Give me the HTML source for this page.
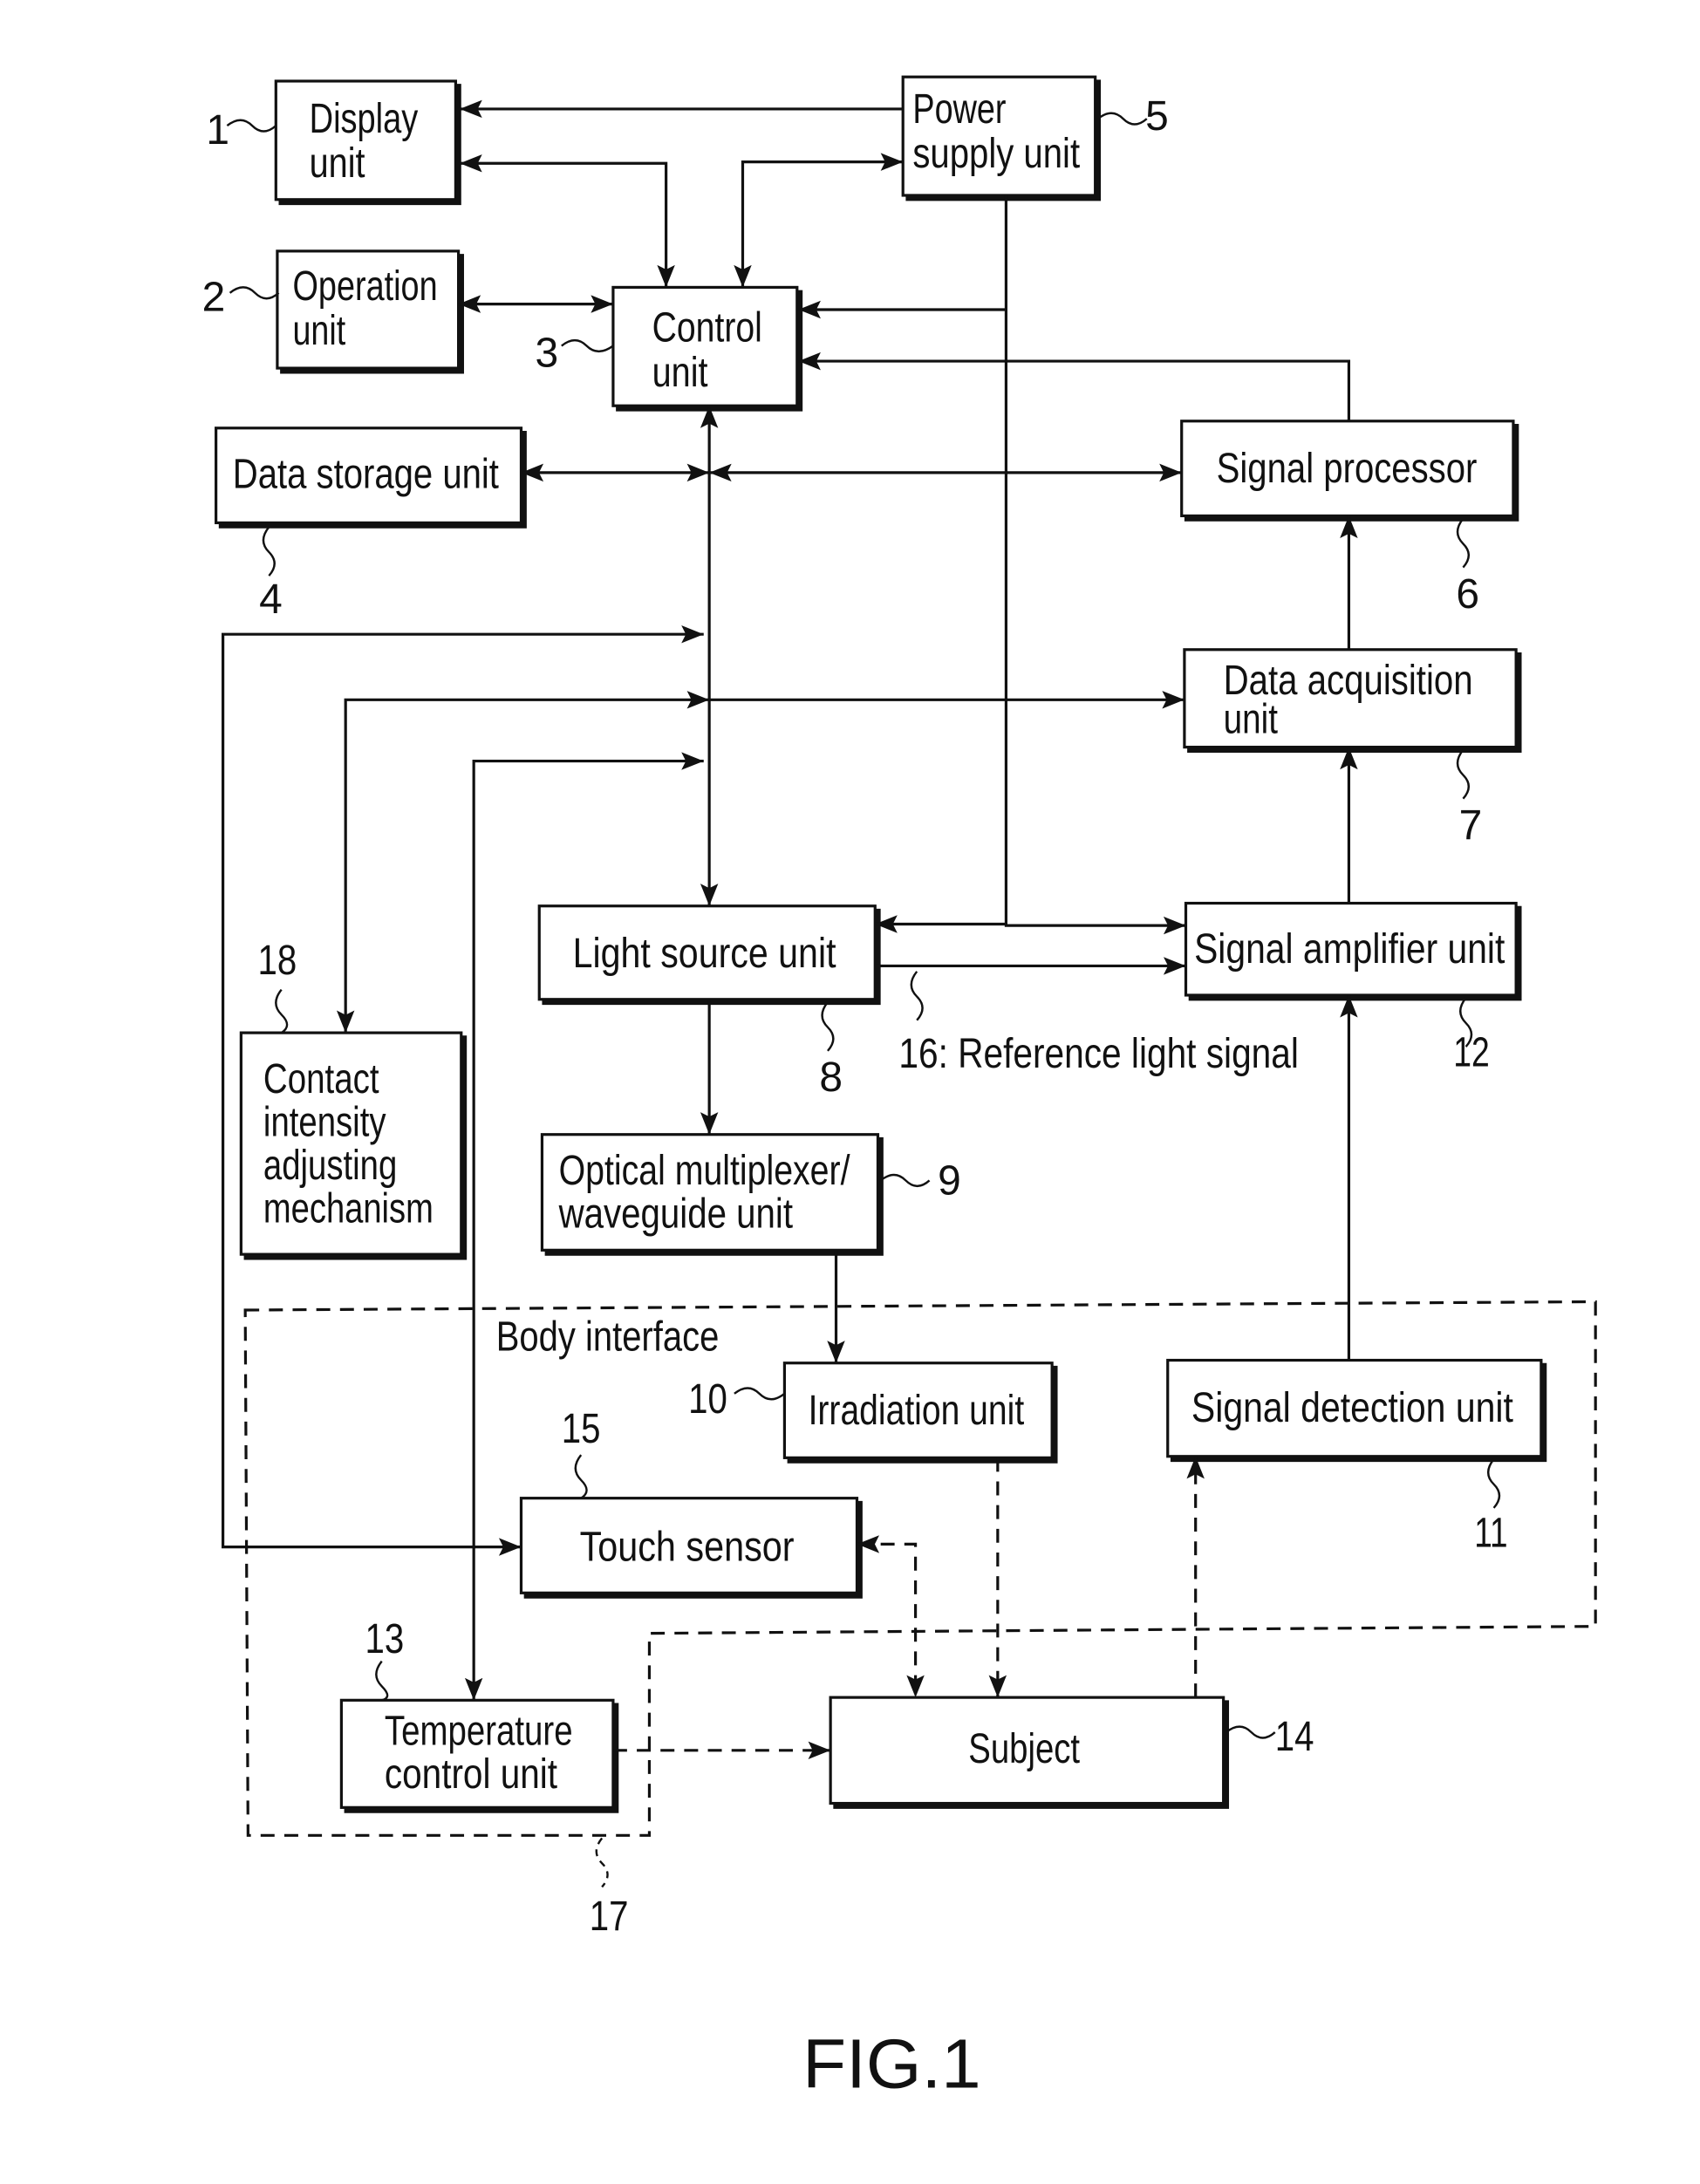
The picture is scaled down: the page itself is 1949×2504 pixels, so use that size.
<!DOCTYPE html>
<html><head><meta charset="utf-8"><style>
html,body{margin:0;padding:0;background:#fff;}
svg{display:block;}
text{font-family:"Liberation Sans",sans-serif;fill:#111;}
</style></head><body>
<svg width="1949" height="2504" viewBox="0 0 1220 1567" xmlns="http://www.w3.org/2000/svg">
<defs>
<marker id="b" viewBox="0 0 10 10" refX="10" refY="5" markerWidth="16" markerHeight="16" markerUnits="userSpaceOnUse" orient="auto-start-reverse">
<path d="M0,1 L10,5 L0,9 L2,5 z" fill="#111"/></marker>
</defs>
<g fill="none" stroke="#111" stroke-width="2">
<g>
<rect x="198" y="58" width="129" height="85"/>
<rect x="648" y="55" width="138" height="85"/>
<rect x="199" y="180" width="130" height="84"/>
<rect x="440" y="206" width="132" height="85"/>
<rect x="155" y="307" width="219" height="68"/>
<rect x="848" y="302" width="238" height="68"/>
<rect x="850" y="466" width="238" height="70"/>
<rect x="387" y="650" width="241" height="67"/>
<rect x="851" y="648" width="237" height="66"/>
<rect x="173" y="741" width="158" height="159"/>
<rect x="389" y="814" width="241" height="83"/>
<rect x="563" y="978" width="192" height="68"/>
<rect x="838" y="976" width="268" height="69"/>
<rect x="374" y="1075" width="241" height="68"/>
<rect x="245" y="1220" width="195" height="77"/>
<rect x="596" y="1218" width="282" height="76"/>
</g>
<g stroke-width="4">
<path d="M329,60 V145 H200"/><path d="M788,57 V142 H650"/><path d="M331,182 V266 H201"/>
<path d="M574,208 V293 H442"/><path d="M376,309 V377 H157"/><path d="M1088,304 V372 H850"/>
<path d="M1090,468 V538 H852"/><path d="M630,652 V719 H389"/><path d="M1090,650 V716 H853"/>
<path d="M333,743 V902 H175"/><path d="M632,816 V899 H391"/><path d="M757,980 V1048 H565"/>
<path d="M1108,978 V1047 H840"/><path d="M617,1077 V1145 H376"/><path d="M442,1222 V1299 H247"/>
<path d="M880,1220 V1296 H598"/>
</g>
<path d="M648,78 H330" marker-end="url(#b)"/>
<path d="M330,117 H478 V206" marker-start="url(#b)" marker-end="url(#b)"/>
<path d="M648,116 H533 V206" marker-start="url(#b)" marker-end="url(#b)"/>
<path d="M722,140 V664 H851" marker-end="url(#b)"/>
<path d="M722,222 H573" marker-end="url(#b)"/>
<path d="M968,302 V259 H573" marker-end="url(#b)"/>
<path d="M329,218 H440" marker-start="url(#b)" marker-end="url(#b)"/>
<path d="M509,291 V650" marker-start="url(#b)" marker-end="url(#b)"/>
<path d="M374,339 H509" marker-start="url(#b)" marker-end="url(#b)"/>
<path d="M509,339 H848" marker-start="url(#b)" marker-end="url(#b)"/>
<path d="M505,455 H160 V1110 H374" marker-start="url(#b)" marker-end="url(#b)"/>
<path d="M509,502 H248 V741" marker-start="url(#b)" marker-end="url(#b)"/>
<path d="M509,502 H850" marker-end="url(#b)"/>
<path d="M505,546 H340 V1220" marker-start="url(#b)" marker-end="url(#b)"/>
<path d="M509,717 V814" marker-end="url(#b)"/>
<path d="M628,663 H722" marker-start="url(#b)"/>
<path d="M628,693 H851" marker-end="url(#b)"/>
<path d="M968,466 V370" marker-end="url(#b)"/>
<path d="M968,648 V536" marker-end="url(#b)"/>
<path d="M968,976 V714" marker-end="url(#b)"/>
<path d="M600,897 V978" marker-end="url(#b)"/>
<g stroke-dasharray="10,7">
<path d="M176,940 L1145,934 L1145,1167 L466,1172 L466,1317 L178,1317 Z"/>
<path d="M716,1046 V1218" marker-end="url(#b)"/>
<path d="M615,1108 H657 V1218" marker-start="url(#b)" marker-end="url(#b)"/>
<path d="M858,1218 V1045" marker-end="url(#b)"/>
<path d="M440,1256 H596" marker-end="url(#b)"/>
</g>
<g stroke-width="1.5">
<path d="M163,90 q10,-8 18,0 t17,0"/>
<path d="M788,85 q10,-8 18,0 t17,0"/>
<path d="M165,210 q10,-8 18,0 t17,0"/>
<path d="M403,248 q10,-8 18,0 t19,0"/>
<path d="M193,378 q-8,10 0,18 t0,17"/>
<path d="M1050,372 q-8,10 0,18 t0,17"/>
<path d="M1050,538 q-8,10 0,18 t0,17"/>
<path d="M594,719 q-8,10 0,18 t0,17"/>
<path d="M1052,716 q-8,10 0,18 t0,17"/>
<path d="M658,697 q-8,10 0,18 t0,17"/>
<path d="M202,710 q-8,10 0,18 t0,13"/>
<path d="M632,847 q10,-8 18,0 t17,0"/>
<path d="M527,1000 q10,-8 18,0 t18,0"/>
<path d="M417,1044 q-8,10 0,18 t0,13"/>
<path d="M1072,1047 q-8,10 0,18 t0,17"/>
<path d="M274,1192 q-8,10 0,18 t0,10"/>
<path d="M880,1243 q10,-8 18,0 t17,0"/>
<path d="M432,1319 q-8,10 0,18 t0,17" stroke-dasharray="5,4"/>
</g>
</g>
<g font-size="30" lengthAdjust="spacingAndGlyphs">
<text x="222" y="95" textLength="78" lengthAdjust="spacingAndGlyphs">Display</text><text x="222" y="127" textLength="40" lengthAdjust="spacingAndGlyphs">unit</text>
<text x="655" y="88" textLength="67" lengthAdjust="spacingAndGlyphs">Power</text><text x="655" y="120" textLength="120" lengthAdjust="spacingAndGlyphs">supply unit</text>
<text x="210" y="215" textLength="104" lengthAdjust="spacingAndGlyphs">Operation</text><text x="210" y="247" textLength="38" lengthAdjust="spacingAndGlyphs">unit</text>
<text x="468" y="245" textLength="79" lengthAdjust="spacingAndGlyphs">Control</text><text x="468" y="277" textLength="40" lengthAdjust="spacingAndGlyphs">unit</text>
<text x="167" y="350" textLength="191" lengthAdjust="spacingAndGlyphs">Data storage unit</text>
<text x="873" y="346" textLength="187" lengthAdjust="spacingAndGlyphs">Signal processor</text>
<text x="878" y="498" textLength="179" lengthAdjust="spacingAndGlyphs">Data acquisition</text><text x="878" y="526" textLength="39" lengthAdjust="spacingAndGlyphs">unit</text>
<text x="411" y="694" textLength="189" lengthAdjust="spacingAndGlyphs">Light source unit</text>
<text x="857" y="691" textLength="223" lengthAdjust="spacingAndGlyphs">Signal amplifier unit</text>
<text x="645" y="766" textLength="287" lengthAdjust="spacingAndGlyphs">16: Reference light signal</text>
<text x="189" y="784" textLength="83" lengthAdjust="spacingAndGlyphs">Contact</text><text x="189" y="815" textLength="88" lengthAdjust="spacingAndGlyphs">intensity</text><text x="189" y="846" textLength="96" lengthAdjust="spacingAndGlyphs">adjusting</text><text x="189" y="877" textLength="122" lengthAdjust="spacingAndGlyphs">mechanism</text>
<text x="401" y="850" textLength="209" lengthAdjust="spacingAndGlyphs">Optical multiplexer/</text><text x="401" y="881" textLength="168" lengthAdjust="spacingAndGlyphs">waveguide unit</text>
<text x="356" y="969" textLength="160" lengthAdjust="spacingAndGlyphs">Body interface</text>
<text x="580" y="1022" textLength="155" lengthAdjust="spacingAndGlyphs">Irradiation unit</text>
<text x="855" y="1020" textLength="231" lengthAdjust="spacingAndGlyphs">Signal detection unit</text>
<text x="416" y="1120" textLength="154" lengthAdjust="spacingAndGlyphs">Touch sensor</text>
<text x="276" y="1252" textLength="135" lengthAdjust="spacingAndGlyphs">Temperature</text><text x="276" y="1283" textLength="124" lengthAdjust="spacingAndGlyphs">control unit</text>
<text x="695" y="1265" textLength="80" lengthAdjust="spacingAndGlyphs">Subject</text>
<text x="148" y="103">1</text><text x="822" y="93">5</text><text x="145" y="223">2</text>
<text x="384" y="263">3</text><text x="186" y="440">4</text><text x="1045" y="436">6</text>
<text x="1047" y="602">7</text><text x="588" y="783">8</text><text x="1043" y="765" textLength="26" lengthAdjust="spacingAndGlyphs">12</text>
<text x="185" y="699" textLength="28" lengthAdjust="spacingAndGlyphs">18</text><text x="673" y="857">9</text><text x="494" y="1014" textLength="28" lengthAdjust="spacingAndGlyphs">10</text>
<text x="403" y="1035" textLength="28" lengthAdjust="spacingAndGlyphs">15</text><text x="1058" y="1110" textLength="24" lengthAdjust="spacingAndGlyphs">11</text><text x="262" y="1186" textLength="28" lengthAdjust="spacingAndGlyphs">13</text>
<text x="915" y="1256" textLength="28" lengthAdjust="spacingAndGlyphs">14</text><text x="423" y="1385" textLength="28" lengthAdjust="spacingAndGlyphs">17</text>
</g>
<text x="576" y="1498" font-size="50" textLength="128" lengthAdjust="spacingAndGlyphs">FIG.1</text>
</svg>
</body></html>
